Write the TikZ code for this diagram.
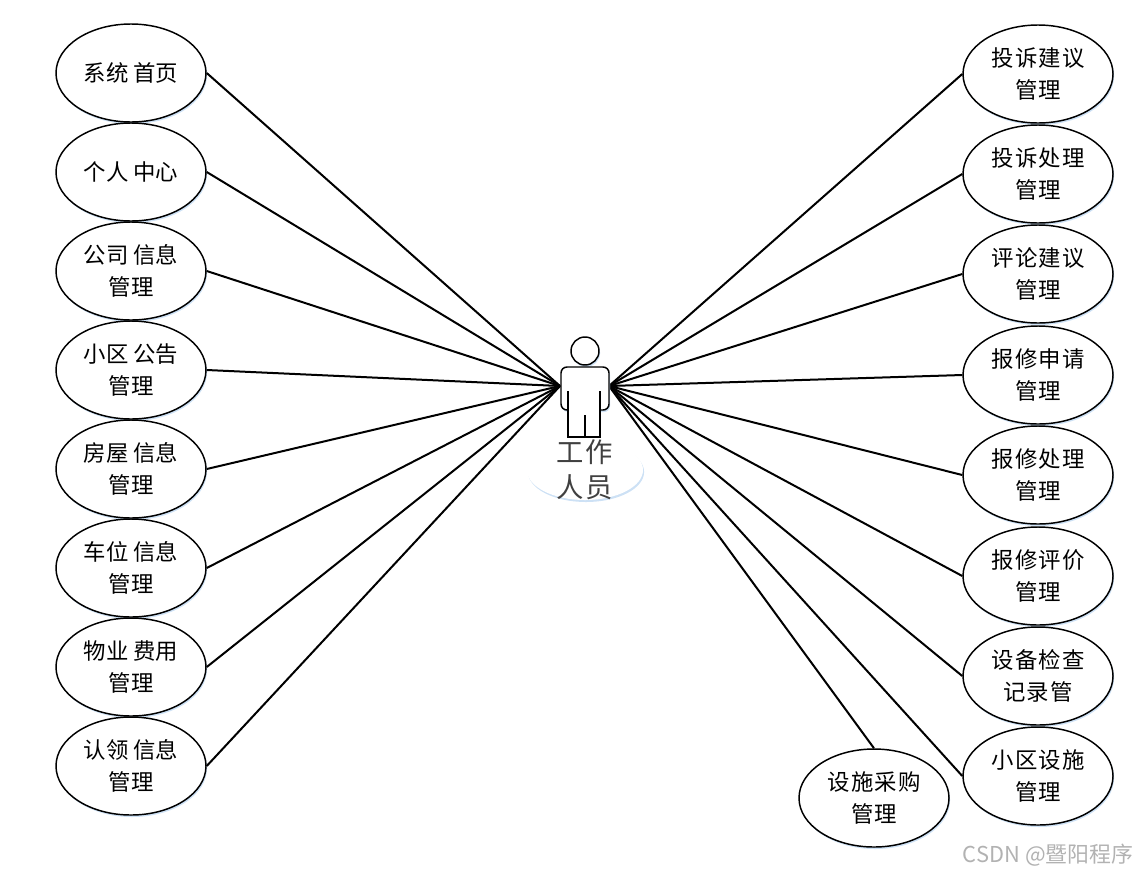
\documentclass[tikz,border=0pt]{standalone}
\usepackage{fontspec}
\usepackage{tikz}
\usetikzlibrary{shapes.geometric,shadows}
\newfontfamily\cjk{Noto Sans CJK SC}
\newfontfamily\cjkwide[LetterSpace=5]{Noto Sans CJK SC}
\definecolor{ShadowBlue}{RGB}{205,225,245}
\tikzset{softshadow/.style={general shadow={shadow xshift=0.8pt,shadow yshift=-1.5pt,fill=ShadowBlue}},
usecase/.style={ellipse,draw=black,line width=1.1pt,fill=white,inner sep=0pt,minimum width=112.5pt,minimum height=73.5pt,align=center,softshadow},
leftcase/.style={usecase,font=\cjk\fontsize{16.8}{23.6}\selectfont},
rightcase/.style={usecase,font=\cjkwide\fontsize{16.8}{23.6}\selectfont},
link/.style={draw=black,line width=1.5pt},
figure/.style={draw=black,line width=1.1pt,fill=white}}

\begin{document}
\begin{tikzpicture}[x=0.75pt,y=-0.75pt]
\useasboundingbox (0,0) rectangle (1137,875);
\coordinate (handl) at (560,386);
\coordinate (handr) at (609,386);
\node[leftcase] (home) at (131,73) {系统 首页};
\node[leftcase] (center) at (131,172) {个人 中心};
\node[leftcase] (company) at (131,271) {公司 信息\\管理};
\node[leftcase] (notice) at (131,370) {小区 公告\\管理};
\node[leftcase] (house) at (131,469) {房屋 信息\\管理};
\node[leftcase] (parking) at (131,568) {车位 信息\\管理};
\node[leftcase] (fee) at (131,667) {物业 费用\\管理};
\node[leftcase] (claim) at (131,766) {认领 信息\\管理};
\node[rightcase] (advice) at (1038,74) {投诉建议\\管理};
\node[rightcase] (complaint) at (1038,174) {投诉处理\\管理};
\node[rightcase] (comment) at (1038,274) {评论建议\\管理};
\node[rightcase] (apply) at (1038,375) {报修申请\\管理};
\node[rightcase] (repair) at (1038,475) {报修处理\\管理};
\node[rightcase] (rating) at (1038,576) {报修评价\\管理};
\node[rightcase] (check) at (1038,676) {设备检查\\记录管};
\node[rightcase] (facility) at (1038,776) {小区设施\\管理};
\node[rightcase] (purchase) at (874,798) {设施采购\\管理};
\draw[link] (home.east) -- (handl);
\draw[link] (center.east) -- (handl);
\draw[link] (company.east) -- (handl);
\draw[link] (notice.east) -- (handl);
\draw[link] (house.east) -- (handl);
\draw[link] (parking.east) -- (handl);
\draw[link] (fee.east) -- (handl);
\draw[link] (claim.east) -- (handl);
\draw[link] (advice.west) -- (handr);
\draw[link] (complaint.west) -- (handr);
\draw[link] (comment.west) -- (handr);
\draw[link] (apply.west) -- (handr);
\draw[link] (repair.west) -- (handr);
\draw[link] (rating.west) -- (handr);
\draw[link] (check.west) -- (handr);
\draw[link] (facility.west) -- (handr);
\draw[link] (purchase.north) -- (handr);
% figure in the middle
\node[ellipse,fill=white,inner sep=0pt,minimum width=87pt,minimum height=45pt,softshadow,label={[align=center,text=black!75,font=\cjkwide\fontsize{20.5}{26.25}\selectfont]center:工作\\人员}] (worker) at (585,470) {};
\node[circle,figure,inner sep=0pt,minimum size=21pt,softshadow] (head) at (585,351) {};
\draw[figure,rounded corners=4.5pt,softshadow] (568,410) -| (561,367) -- (609,367) |- (600,410);
\draw[figure] (568,391) -- (568,437) -- (600,437) -- (600,391);
\draw[figure] (585,415) -- (585,437);
\node[text=black!30,font=\cjk\fontsize{16.4}{18}\selectfont] (mark) at (1048,855) {CSDN @暨阳程序};
\end{tikzpicture}
\end{document}
